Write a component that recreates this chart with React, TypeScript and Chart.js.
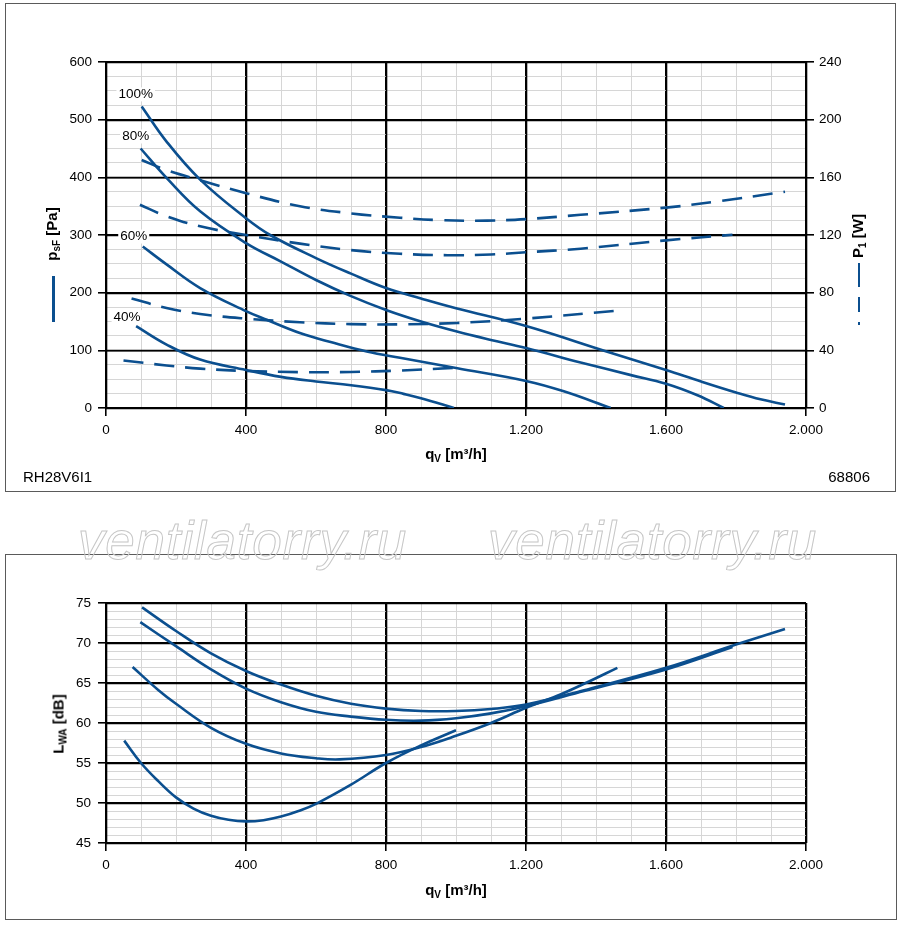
import { useEffect, useRef } from 'react';
import { Chart, registerables } from 'chart.js';

Chart.register(...registerables);

const BLUE = '#0b4f8f';
const FONT = "'Liberation Sans', Arial, Helvetica, sans-serif";
const DASH = [20, 11];

// static pressure psF [Pa] over qV [m³/h], per speed step
const q100 = [102, 173, 269, 400, 469, 600, 700, 800, 900, 1000, 1200, 1430, 1600, 1700, 1800, 1870, 1940];
const psf100 = [523, 462, 396, 329, 300, 260, 233, 208, 190, 173, 142, 98, 66, 46, 27, 15, 6];
const q80 = [99, 173, 269, 400, 500, 600, 700, 800, 900, 1000, 1100, 1200, 1356, 1500, 1600, 1690, 1765];
const psf80 = [450, 399, 341, 286, 254, 222, 194, 170, 150, 133, 118, 104, 79, 57, 42, 22, 0];
const q60 = [105, 173, 269, 400, 459, 554, 650, 745, 840, 1004, 1200, 1308, 1442];
const psf60 = [280, 249, 208, 168, 153, 130, 113, 98, 87, 69, 47, 29, 0];
const q40 = [86, 173, 269, 400, 500, 600, 700, 800, 850, 900, 994];
const psf40 = [142, 110, 84, 66, 54, 46, 39.5, 31, 24.5, 17, 0];

// power input P1 [W]
const qP100 = [102, 173, 269, 400, 554, 700, 840, 956, 1089, 1200, 1356, 1600, 1737, 1940];
const p1_100 = [172, 165, 158, 149, 140, 135, 132, 130.3, 130, 131, 134, 139, 143, 150];
const qP80 = [97, 173, 269, 400, 554, 700, 840, 975, 1100, 1200, 1356, 1600, 1790];
const p1_80 = [141, 133, 126, 120, 114, 109.5, 107, 106, 106.5, 108, 110.5, 116.3, 120.2];
const qP60 = [73, 173, 269, 400, 554, 700, 840, 1004, 1200, 1461];
const p1_60 = [76, 69.4, 65.2, 62, 59.5, 58.2, 58, 59, 62, 67.5];
const qP40 = [50, 173, 269, 400, 554, 700, 840, 1004];
const p1_40 = [33, 29.5, 27.3, 25.7, 24.9, 25, 26, 28];

// sound power LWA [dB]
const qN100 = [103, 200, 300, 400, 500, 600, 700, 800, 900, 1000, 1100, 1200, 1366, 1600, 1800, 1940];
const lwa100 = [74.45, 71.5, 68.7, 66.5, 64.8, 63.4, 62.4, 61.8, 61.5, 61.5, 61.75, 62.3, 64.1, 66.9, 69.8, 71.75];
const qN80 = [98, 200, 300, 400, 500, 600, 700, 800, 900, 1000, 1100, 1200, 1366, 1600, 1790];
const lwa80 = [72.6, 69.6, 66.7, 64.3, 62.6, 61.4, 60.8, 60.4, 60.3, 60.6, 61.2, 62.1, 64.0, 66.7, 69.5];
const qN60 = [76, 150, 200, 300, 400, 500, 600, 667, 800, 900, 1000, 1100, 1200, 1300, 1366, 1461];
const lwa60 = [67.0, 64.1, 62.4, 59.4, 57.4, 56.2, 55.6, 55.45, 56.0, 57.0, 58.4, 60.0, 61.9, 63.6, 64.9, 66.9];
const qN40 = [52, 100, 150, 200, 250, 300, 350, 400, 450, 500, 550, 600, 700, 800, 900, 1000];
const lwa40 = [57.8, 55.0, 52.7, 50.7, 49.3, 48.4, 47.9, 47.7, 47.85, 48.3, 49.0, 49.9, 52.3, 55.0, 57.2, 59.1];

const speedLabels = ['100%', '80%', '60%', '40%'];

const pts = (q: number[], v: number[]) => q.map((x, i) => ({ x, y: v[i] }));
const fmtFlow = (v: number) => (v >= 1000 ? (v / 1000).toFixed(3) : String(v));

const line = (q: number[], v: number[], axis: string, dashed = false) => ({
  data: pts(q, v),
  yAxisID: axis,
  borderColor: BLUE,
  borderWidth: 2.6,
  borderDash: dashed ? DASH : [],
  pointRadius: 0,
  fill: false,
  tension: 0.4,
});

const gridFor = (major: number) => ({
  color: (c: any) => (c.tick && c.tick.value % major === 0 ? '#000' : '#d6d6d6'),
  lineWidth: (c: any) => (c.tick && c.tick.value % major === 0 ? 1.6 : 1),
  tickColor: (c: any) => (c.tick && c.tick.value % major === 0 ? '#000' : 'rgba(0,0,0,0)'),
  tickLength: 8,
  tickWidth: 1.6,
});

const tickFont = { family: FONT, size: 13.5 };

// redraw major lines so the light minor lines do not cut them
const majorGrid = {
  id: 'majorGrid',
  beforeDatasetsDraw(chart: any, _a: any, opts: any) {
    const { ctx, chartArea: a, scales } = chart;
    ctx.save();
    ctx.strokeStyle = '#000';
    ctx.lineWidth = 1.6;
    ctx.beginPath();
    scales.x.ticks.forEach((t: any) => {
      if (t.value % opts.x !== 0) return;
      const px = Math.round(scales.x.getPixelForValue(t.value)) + 0.5;
      ctx.moveTo(px, a.top);
      ctx.lineTo(px, a.bottom);
    });
    scales.y.ticks.forEach((t: any) => {
      if (t.value % opts.y !== 0) return;
      const py = Math.round(scales.y.getPixelForValue(t.value)) + 0.5;
      ctx.moveTo(a.left, py);
      ctx.lineTo(a.right, py);
    });
    ctx.stroke();
    ctx.restore();
  },
};

const labelOffsets = [[-6, -12], [-5, -12], [-9, -10], [-9, -9]];

const speedLabelPlugin = {
  id: 'speedLabels',
  beforeDatasetsDraw(chart: any) {
    const ctx = chart.ctx;
    ctx.save();
    ctx.font = `13.5px ${FONT}`;
    ctx.textAlign = 'center';
    ctx.textBaseline = 'middle';
    speedLabels.forEach((txt, i) => {
      const p = chart.getDatasetMeta(i).data[0];
      const x = p.x + labelOffsets[i][0];
      const y = p.y + labelOffsets[i][1];
      const w = ctx.measureText(txt).width;
      ctx.fillStyle = '#fff';
      ctx.fillRect(x - w / 2 - 2, y - 7, w + 4, 14);
      ctx.fillStyle = '#000';
      ctx.fillText(txt, x, y);
    });
    ctx.restore();
  },
};

const xScale = (height: number) => ({
  type: 'linear' as const,
  min: 0,
  max: 2000,
  afterFit: (s: any) => {
    s.height = height;
  },
  ticks: {
    stepSize: 100,
    autoSkip: false,
    maxRotation: 0,
    padding: 6,
    color: '#000',
    font: tickFont,
    callback: (v: any) => (v % 400 === 0 ? fmtFlow(v) : ''),
  },
  grid: gridFor(400),
  border: { color: '#000', width: 2 },
});

function PressureChart() {
  const ref = useRef<HTMLCanvasElement>(null);
  useEffect(() => {
    const chart = new Chart(ref.current!, {
      type: 'line',
      data: {
        datasets: [
          line(q100, psf100, 'y'),
          line(q80, psf80, 'y'),
          line(q60, psf60, 'y'),
          line(q40, psf40, 'y'),
          line(qP100, p1_100, 'y1', true),
          line(qP80, p1_80, 'y1', true),
          line(qP60, p1_60, 'y1', true),
          line(qP40, p1_40, 'y1', true),
        ],
      },
      options: {
        responsive: false,
        animation: false,
        layout: { padding: { top: 62, left: 0, right: 0, bottom: 0 } },
        plugins: {
          legend: { display: false },
          tooltip: { enabled: false },
          majorGrid: { x: 400, y: 100 },
        } as any,
        scales: {
          x: xScale(92),
          y: {
            type: 'linear',
            position: 'left',
            min: 0,
            max: 600,
            afterFit: (s: any) => {
              s.width = 106;
            },
            ticks: {
              stepSize: 25,
              autoSkip: false,
              padding: 6,
              color: '#000',
              font: tickFont,
              callback: (v: any) => (v % 100 === 0 ? String(v) : ''),
            },
            grid: gridFor(100),
            border: { color: '#000', width: 2 },
          },
          y1: {
            type: 'linear',
            position: 'right',
            min: 0,
            max: 240,
            afterFit: (s: any) => {
              s.width = 94;
            },
            ticks: {
              stepSize: 10,
              autoSkip: false,
              padding: 5,
              color: '#000',
              font: tickFont,
              callback: (v: any) => (v % 40 === 0 ? String(v) : ''),
            },
            grid: { ...gridFor(40), drawOnChartArea: false },
            border: { color: '#000', width: 2 },
          },
        },
      },
      plugins: [majorGrid, speedLabelPlugin],
    });
    return () => chart.destroy();
  }, []);
  return <canvas ref={ref} width={900} height={500} style={{ position: 'absolute', left: 0, top: 0 }} />;
}

function NoiseChart() {
  const ref = useRef<HTMLCanvasElement>(null);
  useEffect(() => {
    const chart = new Chart(ref.current!, {
      type: 'line',
      data: {
        datasets: [
          line(qN100, lwa100, 'y'),
          line(qN80, lwa80, 'y'),
          line(qN60, lwa60, 'y'),
          line(qN40, lwa40, 'y'),
        ],
      },
      options: {
        responsive: false,
        animation: false,
        layout: { padding: { top: 103, left: 0, right: 94, bottom: 0 } },
        plugins: {
          legend: { display: false },
          tooltip: { enabled: false },
          majorGrid: { x: 400, y: 5 },
        } as any,
        scales: {
          x: xScale(82),
          y: {
            type: 'linear',
            position: 'left',
            min: 45,
            max: 75,
            afterFit: (s: any) => {
              s.width = 106;
            },
            ticks: {
              stepSize: 1,
              autoSkip: false,
              padding: 7,
              color: '#000',
              font: tickFont,
              callback: (v: any) => (v % 5 === 0 ? String(v) : ''),
            },
            grid: gridFor(5),
            border: { color: '#000', width: 2 },
          },
        },
      },
      plugins: [majorGrid],
    });
    return () => chart.destroy();
  }, []);
  return <canvas ref={ref} width={900} height={425} style={{ position: 'absolute', left: 0, top: 500 }} />;
}

const boxStyle = (left: number, top: number, width: number, height: number): React.CSSProperties => ({
  position: 'absolute',
  left,
  top,
  width,
  height,
  border: '1.5px solid #5a5a5a',
  boxSizing: 'border-box',
});

const sub: React.CSSProperties = { fontSize: 10, position: 'relative', top: 3 };

function HTitle({ x, y, children }: { x: number; y: number; children: React.ReactNode }) {
  return (
    <div
      style={{
        position: 'absolute',
        left: x,
        top: y,
        transform: 'translateX(-50%)',
        font: `bold 15px ${FONT}`,
        lineHeight: '15px',
        whiteSpace: 'nowrap',
      }}
    >
      {children}
    </div>
  );
}

function VTitle({ x, y, children }: { x: number; y: number; children: React.ReactNode }) {
  return (
    <div
      style={{
        position: 'absolute',
        left: x,
        top: y,
        transform: 'translate(-50%, -50%) rotate(-90deg)',
        font: `bold 15px ${FONT}`,
        lineHeight: '15px',
        whiteSpace: 'nowrap',
      }}
    >
      {children}
    </div>
  );
}

const mark = (left: number, top: number, height: number): React.CSSProperties => ({
  position: 'absolute',
  left,
  top,
  width: 2.6,
  height,
  background: BLUE,
});

const watermark = (left: number): React.CSSProperties => ({
  position: 'absolute',
  left,
  top: 514,
  font: `italic 53px ${FONT}`,
  lineHeight: '53px',
  letterSpacing: '0.8px',
  color: 'transparent',
  WebkitTextStroke: '1px #c6c6c6',
  whiteSpace: 'nowrap',
});

export default function App() {
  return (
    <div
      style={{
        position: 'absolute',
        left: 0,
        top: 0,
        width: 900,
        height: 925,
        background: '#fff',
        overflow: 'hidden',
        fontFamily: FONT,
        color: '#000',
      }}
    >
      <div style={boxStyle(5, 3, 891, 489)} />
      <div style={boxStyle(5, 554, 892, 366)} />
      <PressureChart />
      <NoiseChart />

      <VTitle x={52} y={234}>
        p<span style={sub}>sF</span> [Pa]
      </VTitle>
      <div style={mark(52, 276, 46)} />

      <VTitle x={858} y={236}>
        P<span style={sub}>1</span> [W]
      </VTitle>
      <div style={mark(857.5, 263, 24)} />
      <div style={mark(857.5, 297, 15)} />
      <div style={mark(857.5, 321.5, 3)} />

      <HTitle x={456} y={446}>
        q<span style={sub}>V</span> [m³/h]
      </HTitle>
      <div style={{ position: 'absolute', left: 23, top: 469, font: `15px ${FONT}`, lineHeight: '15px' }}>RH28V6I1</div>
      <div style={{ position: 'absolute', right: 30, top: 469, font: `15px ${FONT}`, lineHeight: '15px' }}>68806</div>

      <div style={watermark(78)}>ventilatorry.ru</div>
      <div style={watermark(488)}>ventilatorry.ru</div>

      <VTitle x={59} y={724}>
        L<span style={sub}>WA</span> [dB]
      </VTitle>
      <HTitle x={456} y={882}>
        q<span style={sub}>V</span> [m³/h]
      </HTitle>
    </div>
  );
}
